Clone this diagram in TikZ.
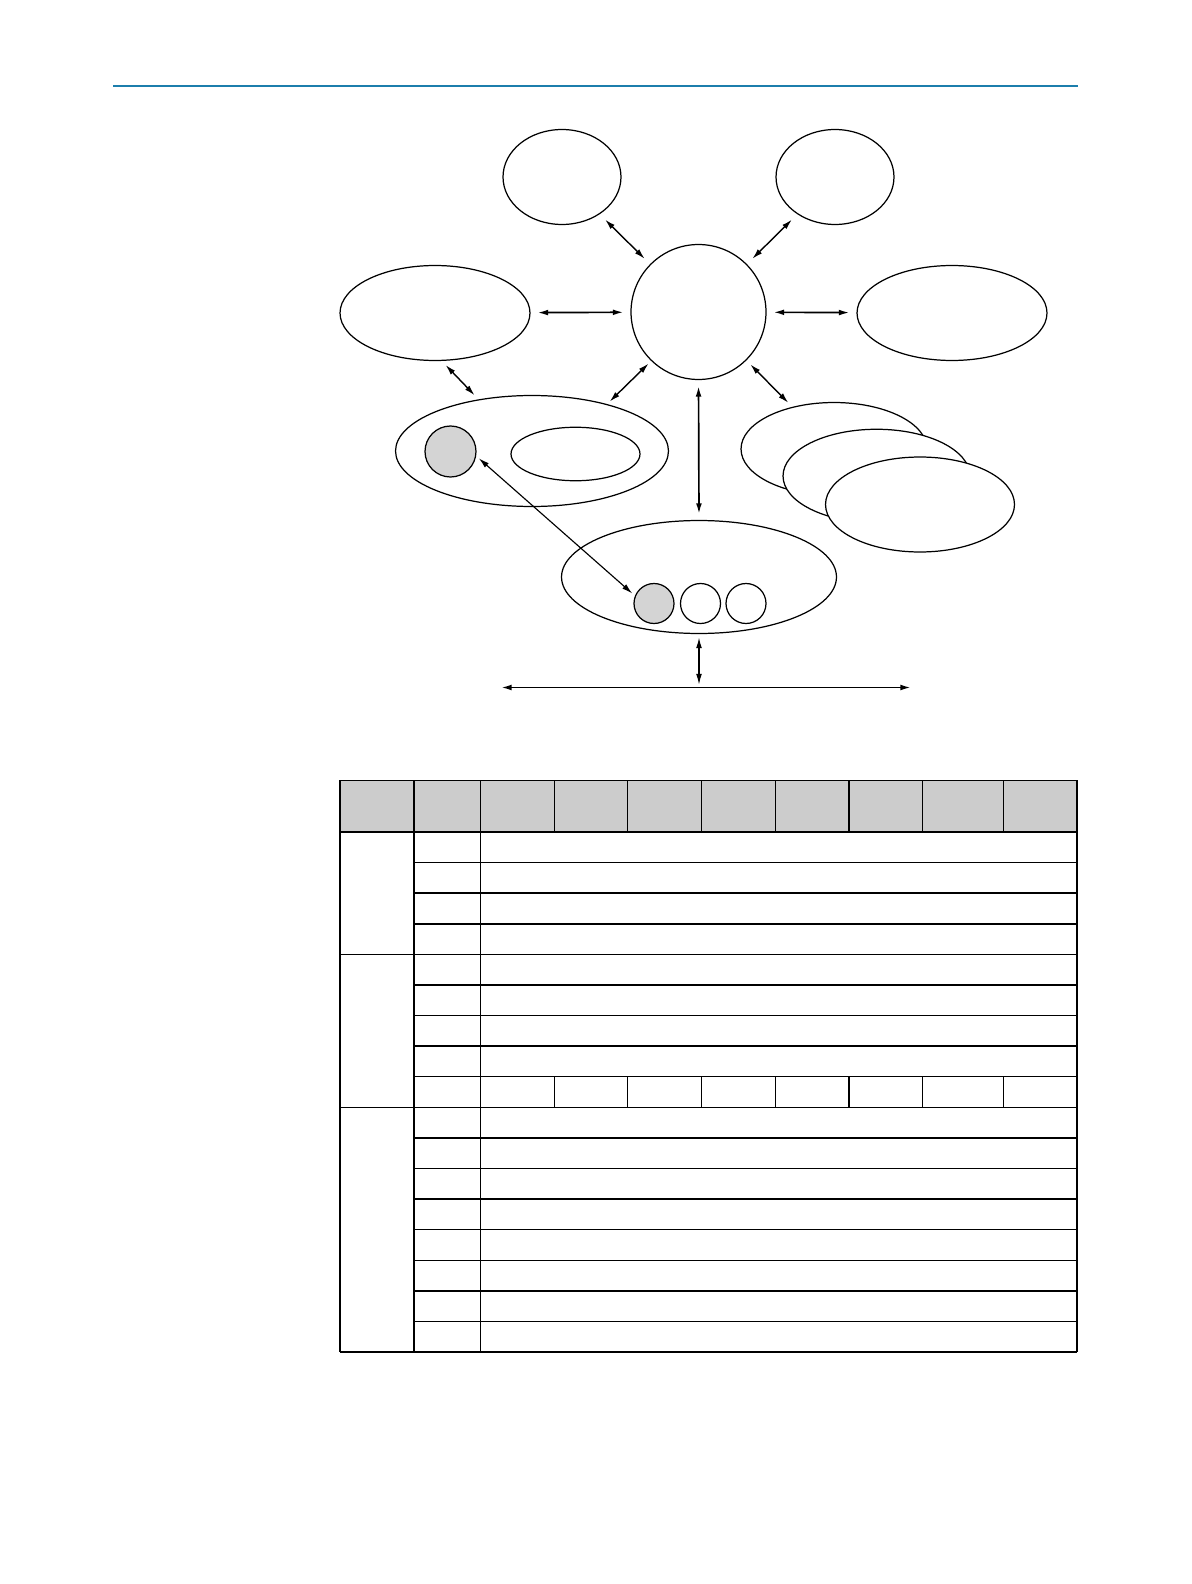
\documentclass[tikz,border=0pt]{standalone}
\usepackage{xcolor}
\usepackage{tikz}
\usetikzlibrary{shapes.geometric,arrows.meta}
\definecolor{rulecol}{RGB}{28,126,172}
\tikzset{
  blob/.style={ellipse, draw, fill=white, inner sep=0pt, line width=0.7pt},
  dot/.style={circle, draw, fill=white, inner sep=0pt, line width=0.7pt},
  arr/.style={{Latex[length=6pt,width=3.3pt]}-{Latex[length=6pt,width=3.3pt]}, line width=0.8pt},
  gap/.style={shorten <=#1, shorten >=#1},
  tbl/.style={line width=0.85pt},
}
\begin{document}
\begin{tikzpicture}[x=0.02cm, y=-0.02cm]
\useasboundingbox (0,0) rectangle (1191,1584);

\draw[rulecol, line width=0.7pt] (113,86)--(1078,86);

% upper ring
\node[dot, minimum size=2.7cm] (hub) at (698.5,312) {};
\node[blob, minimum width=2.36cm, minimum height=1.9cm] (tl) at (562,177) {};
\node[blob, minimum width=2.36cm, minimum height=1.9cm] (tr) at (835,177) {};
\node[blob, minimum width=3.8cm, minimum height=1.9cm] (left) at (435,313) {};
\node[blob, minimum width=3.8cm, minimum height=1.9cm] (right) at (952,313) {};

% group with shaded member
\node[blob, minimum width=5.46cm, minimum height=2.22cm] (midleft) at (532,451) {};
\node[dot, fill=black!17, minimum size=1.02cm] (grayA) at (450.5,451.5) {};
\node[blob, minimum width=2.58cm, minimum height=1.07cm] (inner) at (575.5,454) {};

% stack
\node[blob, minimum width=3.72cm, minimum height=1.86cm] (stack1) at (834,449) {};
\node[blob, minimum width=3.74cm, minimum height=1.87cm] (stack2) at (876.5,476) {};
\node[blob, minimum width=3.78cm, minimum height=1.9cm] (stack3) at (920,504.5) {};

% lower group
\node[blob, minimum width=5.5cm, minimum height=2.26cm] (bottom) at (699,577) {};
\node[dot, fill=black!17, minimum size=0.8cm] (grayB) at (654,603.5) {};
\node[dot, minimum size=0.8cm] (slotB) at (700.5,603.5) {};
\node[dot, minimum size=0.8cm] (slotC) at (746,603.5) {};

\coordinate (busL) at (501,687.5);
\coordinate (busR) at (911,687.5);
\coordinate (busM) at (699,687.5);

\draw[arr, gap=0.15cm] (tl)--(hub);
\draw[arr, gap=0.15cm] (tr)--(hub);
\draw[arr, line width=0.95pt, gap=0.14cm] (left)--(hub);
\draw[arr, line width=0.95pt, gap=0.14cm] (right)--(hub);
\draw[arr, gap=0.11cm] (hub)--(stack1);
\draw[arr, gap=0.07cm] (hub.-134)--(midleft.32);
\draw[arr, gap=0.11cm] (left.-82)--(midleft.136);
\draw[arr, line width=0.95pt, gap=0.12cm] (hub.south)--(bottom.north);
\draw[arr, line width=0.65pt, gap=0.07cm] (grayA.-10)--(grayB.158);
\draw[arr, line width=0.65pt, shorten <=0.07cm, shorten >=0.06cm] (bottom.south)--(busM);
\draw[arr, line width=1.05pt] (busL)--(busR);

% table
\fill[black!20] (340,780.3) rectangle (1077,832);
\foreach \x in {554.5,627.5,701.5,775.5,849,922.5,1003.5}{
	\draw[tbl] (\x,780.3)--(\x,832);
	\draw[tbl] (\x,1076.7)--(\x,1107.3);
}
\foreach \x in {340,414,480.5,1077}{
	\draw[tbl] (\x,780.3)--(\x,1352);
}
\draw[tbl] (340,780.3)--(1077,780.3);
\foreach \k in {0,...,17}{
	\pgfmathsetmacro\y{832+30.59*\k}
	\draw[tbl] (414,\y)--(1077,\y);
}
\foreach \k in {0,4,9,17}{
	\pgfmathsetmacro\y{832+30.59*\k}
	\draw[tbl] (340,\y)--(414,\y);
}

\end{tikzpicture}
\end{document}
